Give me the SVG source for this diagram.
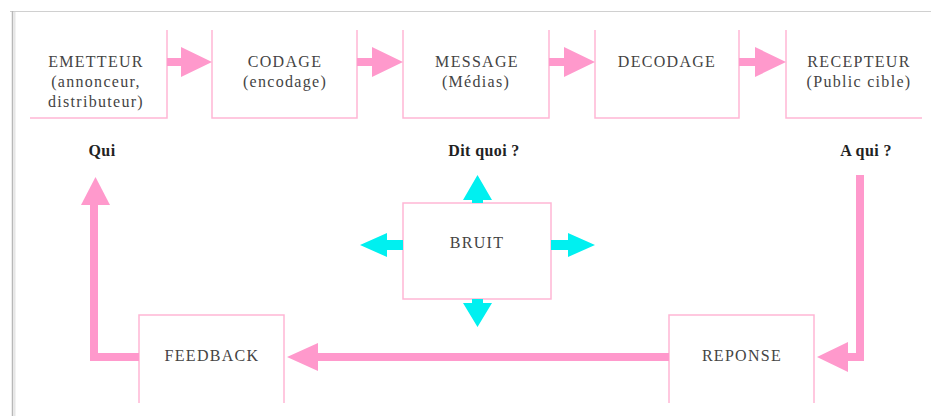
<svg xmlns="http://www.w3.org/2000/svg" width="931" height="416" viewBox="0 0 931 416">
<style>
.box{fill:none;stroke:#ffb6d5;stroke-width:1.5}
.t{font-family:"Liberation Serif",serif;font-size:16px;fill:#444;text-anchor:middle;letter-spacing:1.3px}
.b{font-family:"Liberation Serif",serif;font-size:16px;font-weight:bold;fill:#222;text-anchor:middle;letter-spacing:0.4px}
.pk{fill:#ff99cc}
.pl{fill:none;stroke:#ff99cc;stroke-width:8}
.cy{fill:#00f0f0}
</style>
<rect width="931" height="416" fill="#fff"/>
<g id="frame">
<line x1="10" y1="11.5" x2="931" y2="11.5" stroke="#d0d0d0" stroke-width="1.2"/>
<line x1="12.5" y1="11" x2="12.5" y2="416" stroke="#b8b8b8" stroke-width="1.5"/>
<line x1="14.5" y1="12" x2="14.5" y2="416" stroke="#e6e6e6" stroke-width="2"/>
</g>
<g id="emetteur">
<path class="box" d="M30 118H167V30"/>
<text class="t" x="96" y="67">EMETTEUR</text>
<text class="t" x="96" y="87">(annonceur,</text>
<text class="t" x="96" y="107">distributeur)</text>
</g>
<g id="codage">
<path class="box" d="M212 30V118H357V30"/>
<text class="t" x="285" y="67">CODAGE</text>
<text class="t" x="285" y="87">(encodage)</text>
</g>
<g id="message">
<path class="box" d="M403 30V118H549V30"/>
<text class="t" x="477" y="67">MESSAGE</text>
<text class="t" x="476" y="87">(Médias)</text>
</g>
<g id="decodage">
<path class="box" d="M595 30V118H739V30"/>
<text class="t" x="667" y="67">DECODAGE</text>
</g>
<g id="recepteur">
<path class="box" d="M786 30V118H922"/>
<text class="t" x="859" y="67">RECEPTEUR</text>
<text class="t" x="859" y="87">(Public cible)</text>
</g>
<g id="labels">
<text class="b" x="102" y="156">Qui</text>
<text class="b" x="484" y="156">Dit quoi ?</text>
<text class="b" x="866" y="156">A qui ?</text>
</g>
<g id="bruit">
<rect class="box" x="403" y="203" width="148" height="96"/>
<text class="t" x="477" y="248">BRUIT</text>
</g>
<g id="feedback">
<path class="box" d="M139 403V315H284V403"/>
<text class="t" x="212" y="361">FEEDBACK</text>
</g>
<g id="reponse">
<path class="box" d="M669 403V315H814V403"/>
<text class="t" x="742" y="361">REPONSE</text>
</g>
<g id="connectors">
<path class="pk" d="M167 58H181V47L212 62L181 77V66H167Z"/>
<path class="pk" d="M357 58H372V47L403 62L372 77V66H357Z"/>
<path class="pk" d="M549 58H564V47L595 62L564 77V66H549Z"/>
<path class="pk" d="M739 58H755V47L786 62L755 77V66H739Z"/>
<path class="cy" d="M472 203V200H463L477.5 175L492 200H483V203Z"/>
<path class="cy" d="M403 240H387V233L360 245L387 257V250H403Z"/>
<path class="cy" d="M551 240H568V233L595 245L568 257V250H551Z"/>
<path class="cy" d="M472 299V303H463L477.5 327L492 303H483V299Z"/>
<path class="pk" d="M669 353H318V343L287 357L318 371V361H669Z"/>
<path class="pl" d="M139 357H94V203"/>
<path class="pk" d="M81 205L95.5 177L110 205Z"/>
<path class="pl" d="M860 175V357H846"/>
<path class="pk" d="M848 342L817 357L848 372Z"/>
</g>
</svg>
